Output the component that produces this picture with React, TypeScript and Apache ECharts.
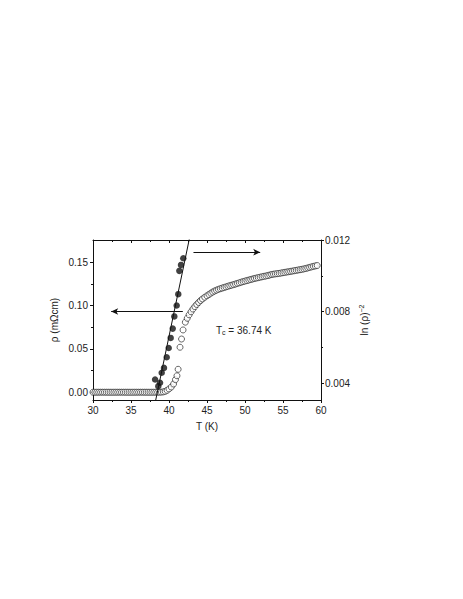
import React, { useEffect, useRef } from "react";
import * as echarts from "echarts";

// Open circles: resistivity rho (mΩcm) vs T (K) — left axis
const rhoT = [
  30.0, 30.25, 30.5, 30.75, 31.0, 31.25, 31.5, 31.75, 32.0, 32.25, 32.5, 32.75,
  33.0, 33.25, 33.5, 33.75, 34.0, 34.25, 34.5, 34.75, 35.0, 35.25, 35.5, 35.75,
  36.0, 36.25, 36.5, 36.75, 37.0, 37.25, 37.5, 37.75, 38.0, 38.25, 38.5, 38.75,
  39.0, 39.25, 39.5, 39.75, 40.0, 40.3, 40.6, 40.85, 41.05, 41.2, 41.45, 41.65,
  41.85, 42.15, 42.4, 42.65, 42.9, 43.15, 43.4, 43.65, 43.9, 44.15, 44.4, 44.7,
  45.0, 45.25, 45.5, 45.75, 46.0, 46.25, 46.5, 46.75, 47.0, 47.25, 47.5, 47.75,
  48.0, 48.25, 48.5, 48.75, 49.0, 49.25, 49.5, 49.75, 50.0, 50.25, 50.5, 50.75,
  51.0, 51.25, 51.5, 51.75, 52.0, 52.25, 52.5, 52.75, 53.0, 53.25, 53.5, 53.75,
  54.0, 54.25, 54.5, 54.75, 55.0, 55.25, 55.5, 55.75, 56.0, 56.25, 56.5, 56.75,
  57.0, 57.25, 57.5, 57.75, 58.0, 58.25, 58.5, 58.75, 59.0, 59.25, 59.5,
];
const rhoVal = [
  0, 0, 0, 0, 0, 0, 0, 0, 0, 0, 0, 0,
  0, 0, 0, 0, 0, 0, 0, 0, 0, 0, 0, 0,
  0, 0, 0, 0, 0, 0, 0, 0, 0, 0, 0, 0,
  0.0001, 0.0004, 0.001, 0.0022, 0.0038, 0.006, 0.0095, 0.0145, 0.019, 0.0265, 0.052, 0.0615,
  0.072, 0.081, 0.0855, 0.0895, 0.093, 0.0962, 0.099, 0.1015, 0.1038, 0.106, 0.1078, 0.1098,
  0.1115, 0.113, 0.1145, 0.1158, 0.117, 0.118, 0.1189, 0.1197, 0.1204, 0.1211, 0.1218, 0.1225,
  0.1232, 0.1238, 0.1244, 0.1251, 0.1258, 0.1265, 0.1272, 0.1279, 0.1285, 0.1291, 0.1297, 0.1303,
  0.1309, 0.1315, 0.132, 0.1325, 0.133, 0.1335, 0.134, 0.1344, 0.1349, 0.1355, 0.1361, 0.1365,
  0.1368, 0.1371, 0.1374, 0.1378, 0.1382, 0.1386, 0.139, 0.1393, 0.1397, 0.1401, 0.1405, 0.1409,
  0.1413, 0.1417, 0.1421, 0.1426, 0.1431, 0.1437, 0.1443, 0.1449, 0.1455, 0.146, 0.1465,
];

// Filled circles: ln(rho)^-2 vs T — right axis
const lnT = [
  38.17, 38.59, 38.82, 39.04, 39.34, 39.7, 39.96, 40.22, 40.49, 40.7, 41.01, 41.22,
  41.36, 41.58, 41.88,
];
const lnVal = [
  0.00422, 0.00385, 0.00404, 0.0046, 0.00487, 0.00546, 0.00598, 0.00654, 0.00706,
  0.00774, 0.00835, 0.00898, 0.01028, 0.01061, 0.01098,
];

// Linear fit through the filled circles (extrapolates to Tc = 36.74 K)
const fitT = [38.2, 42.72];
const fitVal = [0.00297, 0.01215];

// Arrow annotations [T start, T end, value]
const leftArrow = [41.82, 32.39, 0.0933];
const rightArrow = [43.22, 52.0, 0.01132];

// Axes
const xRange = [30, 60];
const leftRange = [-0.009, 0.176];
const rightRange = [0.00308, 0.012];
const leftTicks = [0, 0.05, 0.1, 0.15];
const leftMinorTicks = [0.025, 0.075, 0.125];
const rightTicks = [0.004, 0.008, 0.012];
const rightMinorTicks = [0.006, 0.01];
const tcLabel = "36.74 K";

const FONT = "Liberation Sans, Arial, sans-serif";
const INK = "#111";

export default function App() {
  const ref = useRef<HTMLDivElement>(null);
  useEffect(() => {
    if (!ref.current) return;
    const chart = echarts.init(ref.current, undefined, { renderer: "svg" });
    const axisLine = { show: true, onZero: false, lineStyle: { color: INK, width: 1 } };
    const label = { color: "#222", fontSize: 10, fontFamily: FONT };
    const grid = { left: 93, top: 240, width: 228, height: 160 };
    chart.setOption({
      animation: false,
      backgroundColor: "#fff",
      textStyle: { fontFamily: FONT },
      grid,
      xAxis: [
        {
          type: "value",
          position: "bottom",
          min: xRange[0],
          max: xRange[1],
          interval: 5,
          axisLine,
          axisTick: { show: true, length: 3, lineStyle: { color: INK } },
          minorTick: { show: true, splitNumber: 2, length: 2, lineStyle: { color: INK } },
          axisLabel: { ...label, margin: 5 },
          splitLine: { show: false },
          name: "T (K)",
          nameLocation: "middle",
          nameGap: 21,
          nameTextStyle: { color: "#222", fontSize: 10, fontFamily: FONT },
        },
        {
          type: "value",
          position: "top",
          min: xRange[0],
          max: xRange[1],
          interval: 5,
          axisLine,
          axisTick: { show: true, inside: true, length: 3, lineStyle: { color: INK } },
          minorTick: { show: true, splitNumber: 2, length: 2, lineStyle: { color: INK } },
          axisLabel: { show: false },
          splitLine: { show: false },
        },
      ],
      yAxis: [
        {
          type: "value",
          position: "left",
          min: leftRange[0],
          max: leftRange[1],
          axisLine,
          axisTick: { show: true, length: 3, customValues: leftTicks, lineStyle: { color: INK } },
          axisLabel: {
            ...label,
            margin: 5,
            customValues: leftTicks,
            formatter: (v: number) => v.toFixed(2),
          },
          splitLine: { show: false },
          name: "ρ (mΩcm)",
          nameLocation: "middle",
          nameRotate: 90,
          nameGap: 34,
          nameTextStyle: { color: "#222", fontSize: 10, fontFamily: FONT },
        },
        {
          type: "value",
          position: "right",
          min: rightRange[0],
          max: rightRange[1],
          axisLine,
          axisTick: { show: true, length: 3, customValues: rightTicks, lineStyle: { color: INK } },
          axisLabel: {
            ...label,
            margin: 4,
            customValues: rightTicks,
            formatter: (v: number) => v.toFixed(3),
          },
          splitLine: { show: false },
          name: "{a|ln (ρ)}{s|−2}",
          nameLocation: "middle",
          nameRotate: 90,
          nameGap: 37,
          nameTextStyle: {
            color: "#222",
            fontSize: 10,
            fontFamily: FONT,
            rich: {
              a: { fontSize: 10, color: "#222", fontFamily: FONT },
              s: { fontSize: 7, color: "#222", fontFamily: FONT, padding: [0, 0, 6, 0] },
            },
          },
        },
        {
          type: "value",
          position: "left",
          min: leftRange[0],
          max: leftRange[1],
          axisLine: { show: false, onZero: false },
          axisTick: { show: true, length: 2, customValues: leftMinorTicks, lineStyle: { color: INK } },
          axisLabel: { show: false },
          splitLine: { show: false },
        },
        {
          type: "value",
          position: "right",
          min: rightRange[0],
          max: rightRange[1],
          axisLine: { show: false, onZero: false },
          axisTick: { show: true, length: 2, customValues: rightMinorTicks, lineStyle: { color: INK } },
          axisLabel: { show: false },
          splitLine: { show: false },
        },
      ],
      series: [
        {
          type: "scatter",
          xAxisIndex: 0,
          yAxisIndex: 0,
          symbol: "circle",
          symbolSize: 6,
          itemStyle: { color: "#fff", borderColor: INK, borderWidth: 0.8 },
          data: rhoT.map((t, i) => [t, rhoVal[i]]),
          markLine: {
            silent: true,
            symbol: ["none", "arrow"],
            symbolSize: [5, 7],
            label: { show: false },
            lineStyle: { color: INK, width: 1, type: "solid" },
            data: [
              [
                { coord: [leftArrow[0], leftArrow[2]] },
                { coord: [leftArrow[1], leftArrow[2]] },
              ],
            ],
          },
        },
        {
          type: "line",
          xAxisIndex: 0,
          yAxisIndex: 1,
          symbol: "none",
          clip: true,
          lineStyle: { color: INK, width: 1 },
          data: fitT.map((t, i) => [t, fitVal[i]]),
          z: 3,
        },
        {
          type: "scatter",
          xAxisIndex: 0,
          yAxisIndex: 1,
          symbol: "circle",
          symbolSize: 6.5,
          itemStyle: { color: INK },
          data: lnT.map((t, i) => [t, lnVal[i]]),
          z: 4,
          markLine: {
            silent: true,
            symbol: ["none", "arrow"],
            symbolSize: [5, 7],
            label: { show: false },
            lineStyle: { color: INK, width: 1, type: "solid" },
            data: [
              [
                { coord: [rightArrow[0], rightArrow[2]] },
                { coord: [rightArrow[1], rightArrow[2]] },
              ],
            ],
          },
        },
      ],
      graphic: [
        {
          type: "text",
          left: 216,
          top: 324,
          style: {
            text: "{a|T}{b|c}{a| = " + tcLabel + "}",
            fill: "#222",
            rich: {
              a: { fontSize: 10, fontFamily: FONT, fill: "#222", lineHeight: 13 },
              b: { fontSize: 7, fontFamily: FONT, fill: "#222", lineHeight: 13, padding: [5, 0, 0, 0] },
            },
          },
        },
      ],
    });
    return () => chart.dispose();
  }, []);
  return (
    <div
      ref={ref}
      style={{ position: "absolute", left: 0, top: 0, width: 463, height: 599 }}
    />
  );
}
